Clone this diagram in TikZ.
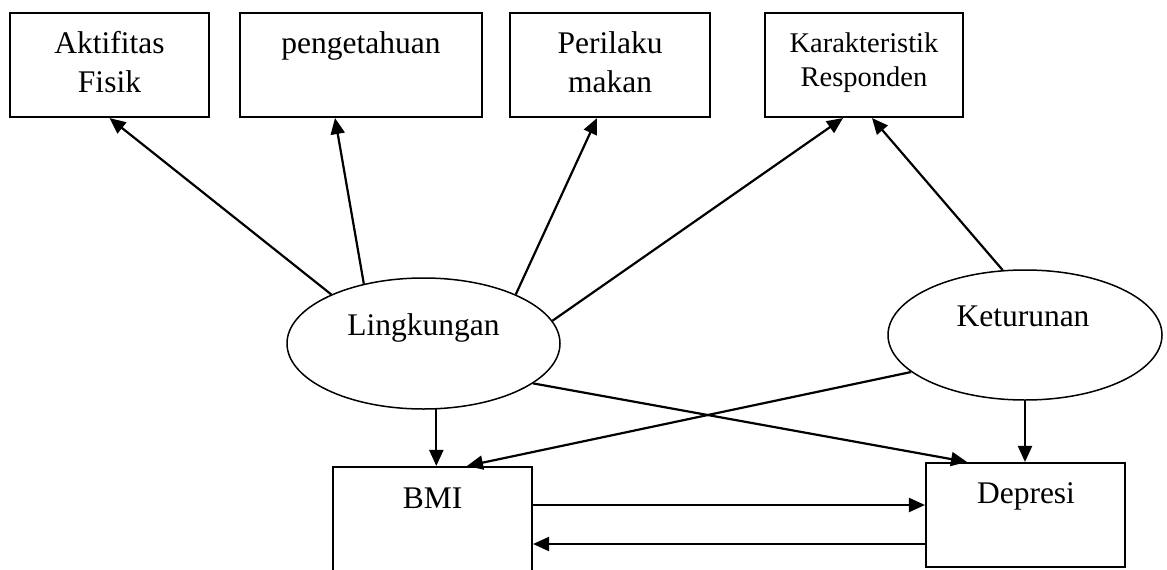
\documentclass[tikz,border=0pt]{standalone}
\usepackage{fontspec}
\setmainfont{Liberation Serif}
\usetikzlibrary{arrows.meta,calc,shapes.geometric}
\begin{document}
\begin{tikzpicture}[x=1pt,y=-1pt,
  box/.style={draw,line width=2.1pt,rectangle,inner sep=0pt},
  oval/.style={draw,line width=1.5pt,ellipse,inner sep=0pt},
  txt/.style={anchor=base,inner sep=0pt,font=\fontsize{31.5}{39}\selectfont},
  stxt/.style={anchor=base,inner sep=0pt,font=\fontsize{28.5}{34}\selectfont},
  arr/.style={line width=2.2pt,-{Triangle[length=16pt,width=14pt]}}]
\useasboundingbox (0,0) rectangle (1167,570);
\clip (0,0) rectangle (1167,570);
% boxes
\node[box,minimum width=199pt,minimum height=104pt] (akt) at (109.5,65) {};
\node[box,minimum width=242pt,minimum height=104pt] (pen) at (361,65) {};
\node[box,minimum width=200pt,minimum height=104pt] (per) at (610,65) {};
\node[box,minimum width=198pt,minimum height=104pt] (kar) at (864,65) {};
\node[box,minimum width=199pt,minimum height=130pt] (bmi) at (432.5,532) {};
\node[box,minimum width=199pt,minimum height=104pt] (dep) at (1025.5,515) {};
% ellipses
\node[oval,minimum width=273pt,minimum height=131pt] (lin) at (423.5,343.5) {};
\node[oval,minimum width=274pt,minimum height=130pt] (ket) at (1025,335) {};
% texts
\node[txt] (t1a) at (109.5,53) {Aktifitas};
\node[txt] (t1b) at (109.5,92) {Fisik};
\node[txt] (t2) at (361,53) {pengetahuan};
\node[txt] (t3a) at (610,53) {Perilaku};
\node[txt] (t3b) at (610,92) {makan};
\node[stxt] (t4a) at (864,52) {Karakteristik};
\node[stxt] (t4b) at (864,86) {Responden};
\node[txt] (t5) at (423.5,335) {Lingkungan};
\node[txt] (t6) at (1023,326) {Keturunan};
\node[txt] (t7) at (432.5,508) {BMI};
\node[txt] (t8) at (1026,503) {Depresi};
% connectors
\draw[arr] (lin.152.6) -- (akt.south);
\draw[arr] (lin.135.5) -- ($(pen.south)+(-26,0)$);
\draw[arr] (lin.28.7) -- ($(per.south)+(-13,0)$);
\draw[arr] (lin.10.5) -- ($(kar.south)+(-21,0)$);
\draw[arr] (ket.109.5) -- ($(kar.south)+(8,0)$);
\draw[arr] (lin.281.7) -- (lin.281.7 |- bmi.north);
\draw[arr] (ket.-162) -- ($(bmi.north)+(34.5,0)$);
\draw[arr] (lin.-20.9) -- ($(dep.north)+(-58.5,0)$);
\draw[arr] (ket.south) -- (ket.south |- dep.north);
\coordinate (ya) at (0,505);
\coordinate (yb) at (0,544);
\draw[arr] (bmi.east |- ya) -- (dep.west |- ya);
\draw[arr] (dep.west |- yb) -- (bmi.east |- yb);
\end{tikzpicture}
\end{document}
